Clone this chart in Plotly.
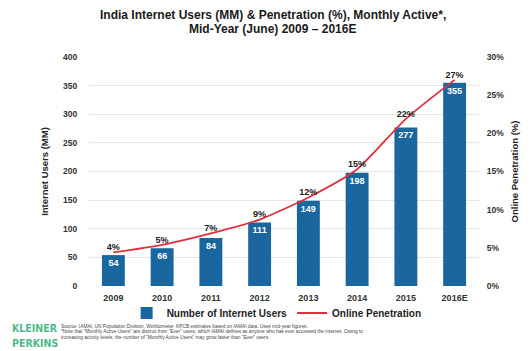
import plotly.graph_objects as go

years = ["2009", "2010", "2011", "2012", "2013", "2014", "2015", "2016E"]
users_mm = [54, 66, 84, 111, 149, 198, 277, 355]
penetration = [0.044, 0.054, 0.069, 0.087, 0.116, 0.153, 0.219, 0.270]
pen_labels = ["4%", "5%", "7%", "9%", "12%", "15%", "22%", "27%"]

BLUE = "#1a67a0"
RED = "#e0303a"
FONT = "Liberation Sans, Arial, sans-serif"

W, H = 531, 351
L, R, T, B = 89, 45, 57, 65
PW, PH = W - L - R, H - T - B

def px(x):
    return (x - L) / PW

def py(y):
    return (H - B - y) / PH

fig = go.Figure()
fig.add_trace(go.Bar(
    x=years, y=users_mm, name="Number of Internet Users",
    marker=dict(color=BLUE, line=dict(width=0)),
    width=0.47,
    text=[str(v) for v in users_mm], textposition="inside",
    insidetextanchor="end", constraintext="none",
    textfont=dict(color="white", size=9, family=FONT, weight="bold"),
    yaxis="y",
))
fig.add_trace(go.Scatter(
    x=years, y=penetration, name="Online Penetration", mode="lines",
    line=dict(color=RED, width=1.8, shape="spline", smoothing=0.6),
    yaxis="y2",
))
fig.add_trace(go.Scatter(
    x=years, y=penetration, mode="text", text=pen_labels,
    textposition="top center", showlegend=False, cliponaxis=False,
    textfont=dict(color="#1a1a1a", size=9, family=FONT, weight="bold"),
    yaxis="y2",
))

tickfont = dict(color="#333333", size=8.5, family=FONT, weight="bold")
fig.update_layout(
    width=W, height=H,
    margin=dict(l=L, r=R, t=T, b=B, pad=0),
    paper_bgcolor="white", plot_bgcolor="white",
    font=dict(family=FONT, color="#222222"),
    xaxis=dict(
        type="category", showgrid=False, showline=False, zeroline=False,
        tickfont=dict(color="#333333", size=9, family=FONT, weight="bold"),
        ticks="outside", ticklen=3, tickcolor="rgba(0,0,0,0)",
    ),
    yaxis=dict(
        range=[0, 400], dtick=50, showgrid=True, gridcolor="#e6e6e6",
        gridwidth=1, zeroline=False, showline=False,
        tickfont=tickfont, ticks="outside", ticklen=9,
        tickcolor="rgba(0,0,0,0)",
        title=dict(text="Internet Users (MM)", standoff=12,
                   font=dict(size=9.5, family=FONT, color="#222222", weight="bold")),
    ),
    yaxis2=dict(
        range=[0, 0.30], dtick=0.05, tickformat=".0%", overlaying="y",
        side="right", showgrid=False, zeroline=False, showline=False,
        tickfont=tickfont, ticks="outside", ticklen=5,
        tickcolor="rgba(0,0,0,0)",
        title=dict(text="Online Penetration (%)", standoff=8,
                   font=dict(size=9.5, family=FONT, color="#222222", weight="bold")),
    ),
    legend=dict(
        orientation="h", x=px(280), xanchor="center", y=py(313),
        yanchor="middle", font=dict(size=10, family=FONT, color="#222222", weight="bold"),
        itemwidth=30, tracegroupgap=0, bgcolor="rgba(0,0,0,0)",
    ),
    showlegend=True,
)

title_lines = [
    ("India Internet Users (MM) & Penetration (%), Monthly Active*,", 15),
    ("Mid-Year (June) 2009 – 2016E", 29),
]
for txt, yy in title_lines:
    fig.add_annotation(
        text=txt, x=px(276), y=py(yy), xref="paper", yref="paper",
        xanchor="center", yanchor="middle", showarrow=False,
        font=dict(size=12, family=FONT, color="#1a1a1a", weight="bold"),
    )

LOGO_GREEN = "#4dba8a"
LOGO_FONT = "Liberation Sans Narrow, DejaVu Sans Condensed, Arial Narrow, sans-serif"
for txt, yy in [("KLEINER", 328), ("PERKINS", 343)]:
    fig.add_annotation(
        text=txt, x=px(9), y=py(yy), xref="paper", yref="paper",
        xanchor="left", yanchor="middle", showarrow=False,
        font=dict(size=10.5, family=LOGO_FONT, color=LOGO_GREEN, weight="bold"),
    )

source_lines = [
    "Source: IAMAI, UN Population Division, Worldometer, KPCB estimates based on IAMAI data. Uses mid-year figures.",
    "*Note that \"Monthly Active Users\" are distinct from \"Ever\" users, which IAMAI defines as anyone who has ever accessed the internet. Owing to",
    "increasing activity levels, the number of \"Monthly Active Users\" may grow faster than \"Ever\" users.",
]
for i, line in enumerate(source_lines):
    fig.add_annotation(
        text=line, x=px(58), y=py(326 + i * 5.5), xref="paper", yref="paper",
        xanchor="left", yanchor="middle", showarrow=False,
        font=dict(size=4.8, family=FONT, color="#444444"),
    )

fig.write_html("out.html")
